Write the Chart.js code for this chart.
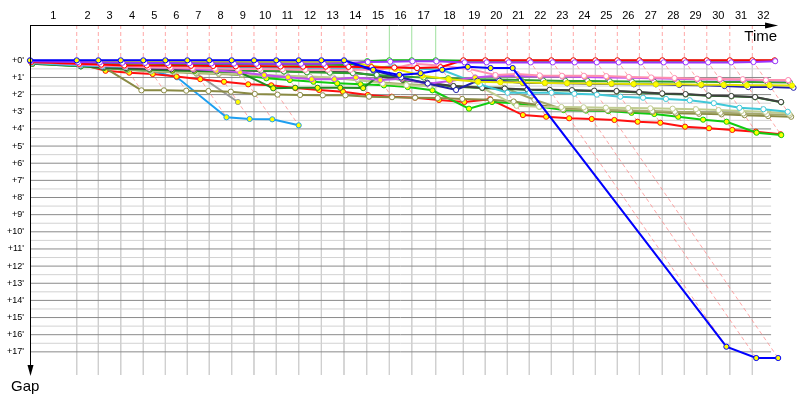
<!DOCTYPE html>
<html lang="en">
<head>
<meta charset="utf-8">
<title>Gap Chart</title>
<script src="https://cdn.jsdelivr.net/npm/chart.js"></script>
<style>
  html, body { margin: 0; padding: 0; background: #fff; }
</style>
</head>
<body>
<canvas id="gapChart" width="800" height="400"></canvas>
<script>
// leader crossing time per lap (minutes), index 0 = start
const lapTimes = [0, 3.96, 5.79, 7.69, 9.60, 11.47, 13.33, 15.19, 17.09, 18.98, 20.87, 22.77, 24.69, 26.61, 28.53,
  30.45, 32.35, 34.38, 36.72, 38.58, 40.45, 42.31, 44.18, 46.04, 47.91, 49.77, 51.64, 53.58, 55.45, 57.35, 59.30, 61.21, 63.10];
const lapLabels = ['1','2','3','4','5','6','7','8','9','10','11','12','13','14','15','16',
  '17','18','19','20','21','22','23','24','25','26','27','28','29','30','31','32'];
const greenLaps = [15, 16, 17];

// gap to leader in minutes, start + laps 1..32 (null = no more laps)
const redGaps = [0.1,0.2,0.25,0.3,0.3,0.3,0.32,0.33,0.35,0.35,0.36,0.37,0.37,0.38,0.4,0.42,0.45,0.4,0,0,0,0,0,0,0,0,0,0,0,0,0,0,0];
const greenGaps = [0.05,0.15,0.18,0.2,0.2,0.22,0.22,0.23,0.24,0.25,0.25,0.26,0.26,0.27,0.05,0,0,0,0.02,0.02,0.02,0.02,0.02,0.02,0.02,0.02,0.02,0.02,0.02,0.02,0.02,0.02,0.02];
const purpleGaps = [0.05,0.1,0.12,0.14,0.15,0.16,0.17,0.18,0.19,0.2,0.2,0.2,0.2,0.15,0.1,0.08,0.06,0.06,0.12,0.12,0.12,0.12,0.12,0.12,0.12,0.12,0.12,0.12,0.12,0.12,0.12,0.1,0.05];
const blueGaps = [0,0,0,0,0,0,0,0,0,0,0,0,0,0,0.55,0.85,0.75,0.55,0.38,0.45,0.45,16.7,17.36,17.36,null,null,null,null,null,null,null,null,null];
const navyGaps = [0.05,0.1,0.12,0.14,0.15,0.15,0.15,0.16,0.16,0.17,0.17,0.18,0.18,0.1,0.6,1.0,1.35,1.73,1.19,1.19,1.32,1.32,1.34,1.36,1.38,1.4,1.4,1.44,1.45,1.5,1.56,1.56,1.6];
const yellowGaps = [0.1,0.1,0.08,0.08,0.08,0.08,0.08,0.08,0.08,0.08,0.08,0.08,0.08,0.08,0.3,0.5,0.9,1.1,1.25,1.28,1.3,1.32,1.33,1.35,1.36,1.38,1.4,1.4,1.42,1.43,1.45,1.45,1.47];
const pinkGaps = [0.1,0.2,0.3,0.35,0.4,0.42,0.45,0.48,0.5,0.5,0.52,0.55,0.55,0.55,0.55,0.45,0.2,0.3,0.5,0.86,0.8,0.88,0.9,0.9,0.92,0.97,1.0,1.03,1.07,1.09,1.1,1.15,1.15];
const violetGaps = [0.1,0.25,0.3,0.35,0.4,0.45,0.5,0.6,0.7,0.86,0.99,1.1,1.1,1.0,1.15,1.07,1.36,1.2,1.0,0.9,0.92,0.95,0.95,0.97,1.0,1.02,1.05,1.08,1.1,1.12,1.14,1.16,1.18];
const midGreenGaps = [0.1,0.2,0.25,0.3,0.35,0.4,0.45,0.5,0.55,0.6,0.65,0.7,0.72,0.75,0.85,0.95,1.0,1.05,1.1,1.12,1.15,1.18,1.2,1.2,1.22,1.23,1.24,1.25,1.25,1.26,1.27,1.28,1.3];
const cyanGaps = [0.15,0.3,0.35,0.38,0.4,0.42,0.42,0.43,0.44,0.45,0.45,0.46,0.47,0.47,0.45,0.35,0.47,0.57,1.4,1.89,1.89,1.89,1.95,2.0,2.12,2.18,2.25,2.33,2.5,2.77,2.85,3.0,null];
const darkGrayGaps = [0.15,0.3,0.4,0.45,0.5,0.52,0.55,0.57,0.6,0.62,0.64,0.66,0.68,0.7,0.9,1.1,1.3,1.5,1.6,1.65,1.7,1.72,1.74,1.77,1.79,1.85,1.93,1.97,2.05,2.08,2.14,2.43,null];
const darkGreenGaps = [0.2,0.35,0.45,0.5,0.55,0.6,0.62,0.65,0.7,1.63,1.6,1.6,1.6,1.62,0.95,1.15,1.32,1.52,1.62,1.67,1.72,1.74,1.76,1.79,1.81,1.87,1.95,1.99,2.07,2.1,2.16,2.45,null];
const khakiGaps = [0.15,0.3,0.4,0.5,0.6,0.65,0.7,0.75,0.8,0.85,0.9,0.95,1.0,1.1,1.35,1.45,1.5,1.55,1.6,2.65,2.7,2.72,2.74,2.76,2.78,2.8,2.82,2.85,2.9,2.95,3.0,3.1,null];
const sageGaps = [0.2,0.35,0.45,0.55,0.65,0.7,0.75,0.8,0.85,0.9,0.95,1.0,1.05,1.15,1.3,1.4,1.45,1.5,1.55,1.6,2.3,2.85,2.88,2.9,2.93,2.96,3.0,3.03,3.06,3.1,3.14,3.18,null];
const oliveGaps = [0.2,0.25,0.35,1.75,1.75,1.77,1.79,1.83,1.96,2.0,2.02,2.04,2.04,2.12,2.15,2.18,2.2,2.25,2.3,2.4,2.6,2.8,2.88,2.92,2.97,3.0,3.09,3.12,3.15,3.2,3.25,3.29,null];
const limeGaps = [0.15,0.35,0.45,0.55,0.6,0.65,0.7,0.75,0.85,1.05,1.15,1.25,1.34,1.4,1.46,1.56,1.75,2.82,2.43,2.5,2.7,2.9,2.93,2.96,3.06,3.13,3.29,3.46,3.58,4.22,4.36,null,null];
const scarletGaps = [0.2,0.2,0.61,0.72,0.8,0.95,1.1,1.25,1.4,1.46,1.62,1.73,1.83,2.02,2.12,2.18,2.31,2.43,2.27,3.19,3.29,3.38,3.42,3.48,3.58,3.64,3.87,3.96,4.06,4.16,4.31,null,null];
const skyGaps = [0.15,0.25,0.3,0.4,0.6,0.99,3.32,3.42,3.44,3.79,null,null,null,null,null,null,null,null,null,null,null,null,null,null,null,null,null,null,null,null,null,null,null];
const grayGaps = [0.15,0.3,0.4,0.45,0.5,0.6,0.78,2.43,null,null,null,null,null,null,null,null,null,null,null,null,null,null,null,null,null,null,null,null,null,null,null,null,null];

const Y_MIN = -2.06, Y_MAX = 18.35;
const X_MAX = 65.25;   // canvas edge, so the last laps past the grid still show
const X_END = 62.8;    // where the grid and time axis stop
const GRID_TOP = 17;
const PINK = 'rgba(255,120,120,0.65)';

// line colour, marker fill; first in list is drawn on top
const cars = [
  [blueGaps, '#0000ff', '#ffff00'],
  [purpleGaps, '#9933ff', '#ffffff'],
  [redGaps, '#ff0000', '#ffffff'],
  [greenGaps, '#10b810', '#ffffff'],
  [yellowGaps, '#e4e400', '#ffff00'],
  [navyGaps, '#2020a8', '#ffffff'],
  [pinkGaps, '#ff8fb0', '#ffffff'],
  [violetGaps, '#c050f0', '#ffff00'],
  [midGreenGaps, '#30a030', '#ffffff'],
  [cyanGaps, '#40c8d8', '#ffffff'],
  [darkGrayGaps, '#404040', '#ffffff'],
  [darkGreenGaps, '#208a20', '#ffff00'],
  [khakiGaps, '#c0cc90', '#ffffff'],
  [sageGaps, '#a4a86c', '#ffffff'],
  [oliveGaps, '#8a8a44', '#ffffff'],
  [limeGaps, '#10cc10', '#ffff00'],
  [scarletGaps, '#ff1010', '#ffff00'],
  [skyGaps, '#1e9ff0', '#ffff00'],
  [grayGaps, '#9a9a9a', '#ffff00']
];

function toPoints(gaps) {
  const out = [];
  gaps.forEach((g, i) => { if (g != null) out.push({ x: lapTimes[i] + g, y: g }); });
  return out;
}

const datasets = [];

cars.forEach(([gaps, col, fill]) => {
  datasets.push({
    data: toPoints(gaps),
    borderColor: col, backgroundColor: col, borderWidth: 2,
    pointRadius: 2.6, pointBorderWidth: 1, pointBorderColor: col, pointBackgroundColor: fill,
    tension: 0, clip: false, order: 1
  });
});

// lap lines: vertical above the leader, then diagonal through every car on that lap
for (let n = 1; n <= 31; n++) {
  let last = 0;
  cars.forEach(c => { const g = c[0][n]; if (g != null && g > last) last = g; });
  const green = greenLaps.includes(n);
  datasets.push({
    data: [{ x: lapTimes[n], y: Y_MIN }, { x: lapTimes[n], y: 0 }, { x: lapTimes[n] + last, y: last }],
    borderColor: PINK, borderWidth: 1, borderDash: [4, 3], pointRadius: 0, clip: false, order: 2,
    segment: {
      borderColor: c => (green && c.p0DataIndex === 0) ? '#9ee09e' : PINK,
      borderDash: c => (green && c.p0DataIndex === 0) ? [] : [4, 3]
    }
  });
  // light vertical grid below the leader
  datasets.push({
    data: [{ x: lapTimes[n], y: 0 }, { x: lapTimes[n], y: Y_MAX }],
    borderColor: '#d0d0d0', borderWidth: 1, pointRadius: 0, order: 5
  });
}

// horizontal grid, every half minute, stopping at the end of the time axis
for (let k = 0; k <= GRID_TOP * 2; k++) {
  const whole = k % 2 === 0;
  datasets.push({
    data: [{ x: 0, y: k / 2 }, { x: X_END, y: k / 2 }],
    borderColor: whole ? '#8a8a8a' : '#d2d2d2', borderWidth: 1, pointRadius: 0,
    order: whole ? 4 : 6
  });
}

const lapMids = lapLabels.map((l, i) => (lapTimes[i] + lapTimes[i + 1]) / 2);

const axisArrows = {
  id: 'axisArrows',
  afterDatasetsDraw(chart) {
    const { ctx, chartArea: a } = chart;
    const xEnd = chart.scales.x.getPixelForValue(X_END);
    ctx.save();
    ctx.strokeStyle = '#000';
    ctx.fillStyle = '#000';
    ctx.lineWidth = 1;
    ctx.beginPath();
    ctx.moveTo(a.left, a.top + 0.5);
    ctx.lineTo(xEnd - 4, a.top + 0.5);
    ctx.moveTo(a.left + 0.5, a.top);
    ctx.lineTo(a.left + 0.5, a.bottom - 8);
    ctx.stroke();
    ctx.beginPath();
    ctx.moveTo(xEnd + 7, a.top + 0.5);
    ctx.lineTo(xEnd - 6, a.top - 2.5);
    ctx.lineTo(xEnd - 6, a.top + 3.5);
    ctx.closePath();
    ctx.fill();
    ctx.beginPath();
    ctx.moveTo(a.left + 0.5, a.bottom + 1);
    ctx.lineTo(a.left - 2.5, a.bottom - 10);
    ctx.lineTo(a.left + 3.5, a.bottom - 10);
    ctx.closePath();
    ctx.fill();
    ctx.font = '15px "Liberation Sans", Arial, sans-serif';
    ctx.textAlign = 'right';
    ctx.textBaseline = 'alphabetic';
    ctx.fillText('Time', xEnd + 6, a.top + 16);
    ctx.textAlign = 'left';
    ctx.fillText('Gap', 11, a.bottom + 16);
    ctx.restore();
  }
};

new Chart(document.getElementById('gapChart'), {
  type: 'line',
  data: { datasets },
  options: {
    responsive: false,
    devicePixelRatio: 1,
    animation: false,
    events: [],
    layout: { autoPadding: false, padding: { top: 0, left: 0, right: 0, bottom: 25 } },
    plugins: { legend: { display: false }, tooltip: { enabled: false } },
    scales: {
      x: {
        type: 'linear',
        position: 'top',
        bounds: 'data',
        afterDataLimits: s => { s.min = 0; s.max = X_MAX; },
        afterBuildTicks: s => { s.ticks = lapMids.map(v => ({ value: v })); },
        afterFit: s => { s.height = 25; },
        grid: { display: false, drawTicks: false },
        border: { display: false },
        ticks: {
          autoSkip: false, maxRotation: 0, minRotation: 0, padding: 2, color: '#000',
          font: { family: 'Liberation Sans', size: 11 },
          callback: (v, i) => lapLabels[i]
        }
      },
      y: {
        type: 'linear',
        reverse: true,
        min: Y_MIN,
        max: Y_MAX,
        afterBuildTicks: s => {
          const t = [];
          for (let k = 0; k <= GRID_TOP; k++) t.push({ value: k });
          s.ticks = t;
        },
        afterFit: s => { s.width = 30; },
        grid: { display: false, drawTicks: false },
        border: { display: false },
        ticks: {
          autoSkip: false, padding: 6, color: '#000',
          font: { family: 'Liberation Sans', size: 9 },
          callback: v => "+" + v + "'"
        }
      }
    }
  },
  plugins: [axisArrows]
});
</script>
</body>
</html>
